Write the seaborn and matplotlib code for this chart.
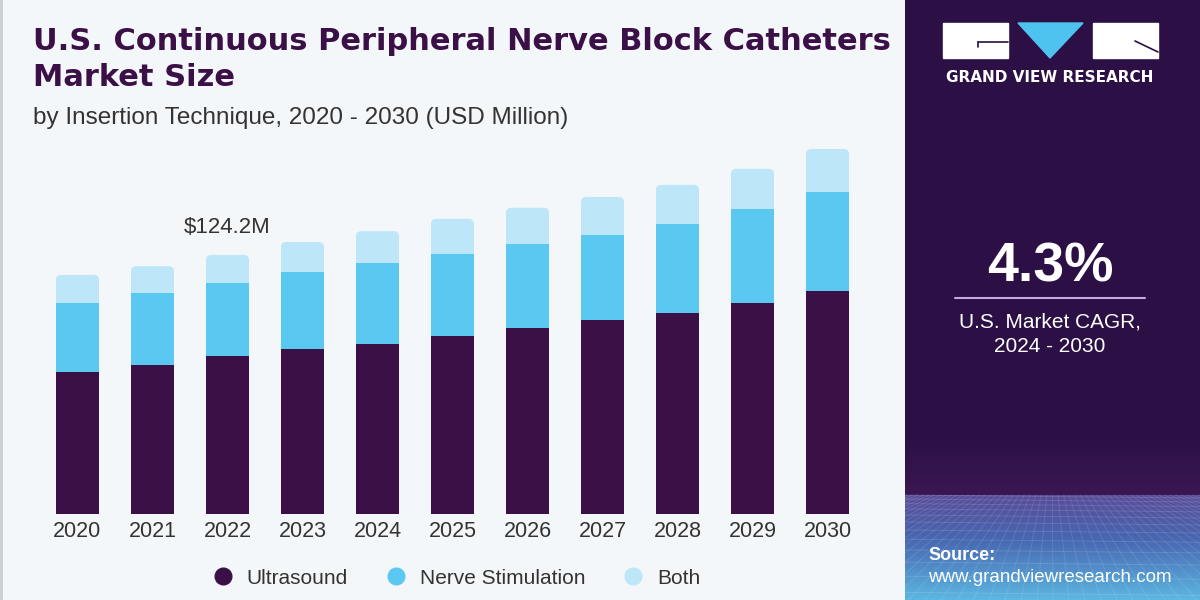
import numpy as np
import pandas as pd
import matplotlib
matplotlib.use("Agg")
import matplotlib.pyplot as plt
import matplotlib.patches as mpatches
import seaborn as sns

# ---- Data (USD Million) ----
years = ["2020", "2021", "2022", "2023", "2024", "2025", "2026", "2027", "2028", "2029", "2030"]
ultrasound = [68.1, 71.4, 75.8, 79.1, 81.5, 85.4, 89.2, 93.0, 96.4, 101.2, 106.9]
nerve_stim = [33.1, 34.5, 35.0, 36.9, 38.8, 39.3, 40.3, 40.8, 42.7, 45.1, 47.5]
both = [13.4, 12.9, 13.4, 14.4, 15.3, 16.8, 17.3, 18.2, 18.7, 19.2, 20.6]
segments = ["Ultrasound", "Nerve Stimulation", "Both"]
colors = ["#3B1046", "#5BC8F2", "#BDE6F8"]
callout_year = "2022"
callout_text = "$124.2M"
cagr = "4.3%"

df = pd.DataFrame({"year": years, "Ultrasound": ultrasound,
                   "Nerve Stimulation": nerve_stim, "Both": both})
df["cum_us"] = df["Ultrasound"]
df["cum_ns"] = df["cum_us"] + df["Nerve Stimulation"]
df["cum_all"] = df["cum_ns"] + df["Both"]

sns.set_style("white")
plt.rcParams["font.family"] = ["Liberation Sans", "DejaVu Sans"]

bg = "#F3F7FA"
panel = "#2B0F45"
dark = "#333333"

fig = plt.figure(figsize=(12, 6), dpi=100, facecolor=bg)

# ---- Stacked bars (totals first, lower stacks drawn over them) ----
ax = fig.add_axes([40 / 1200, 86 / 600, 825 / 1200, 374 / 600])
ax.set_facecolor(bg)
ax.set_ylim(0, 179.3)
ax.set_xlim(-0.5, len(years) - 0.5)
sns.barplot(data=df, x="year", y="cum_all", color=colors[2], width=0.573, ax=ax,
            saturation=1, edgecolor="none", linewidth=0)
# round the top corners of the full-height bars
for p in list(ax.patches):
    x0, y0, w, hgt = p.get_x(), p.get_y(), p.get_width(), p.get_height()
    p.remove()
    ax.add_patch(mpatches.FancyBboxPatch((x0, y0), w, hgt,
                 boxstyle="round,pad=0,rounding_size=0.07", mutation_aspect=36,
                 facecolor=colors[2], edgecolor="none"))
sns.barplot(data=df, x="year", y="cum_ns", color=colors[1], width=0.573, ax=ax,
            saturation=1, edgecolor="none", linewidth=0)
sns.barplot(data=df, x="year", y="cum_us", color=colors[0], width=0.573, ax=ax,
            saturation=1, edgecolor="none", linewidth=0)
ax.set_ylim(0, 179.3)
ax.set_xlim(-0.5, len(years) - 0.5)
ax.set_xlabel("")
ax.set_ylabel("")
ax.set_yticks([])
ax.tick_params(axis="x", length=0, labelsize=15.5, colors=dark, pad=5)
sns.despine(ax=ax, left=True, bottom=True)

i = years.index(callout_year)
ax.text(i, df["cum_all"][i] + 8, callout_text, ha="center", va="bottom",
        fontsize=16, color=dark)

# ---- Title ----
title_font = ["DejaVu Sans"]
fig.text(33 / 1200, 1 - 42 / 600, "U.S. Continuous Peripheral Nerve Block Catheters",
         fontsize=22, fontweight="bold", color="#3B1046", va="center", family=title_font)
fig.text(33 / 1200, 1 - 77 / 600, "Market Size",
         fontsize=22, fontweight="bold", color="#3B1046", va="center", family=title_font)
fig.text(33 / 1200, 1 - 118 / 600, "by Insertion Technique, 2020 - 2030 (USD Million)",
         fontsize=17.5, color=dark, va="center")

# ---- Legend ----
handles = [plt.Line2D([0], [0], marker="o", linestyle="", markersize=12,
                      markerfacecolor=c, markeredgecolor=c) for c in colors]
fig.legend(handles, segments, loc="center", bbox_to_anchor=(451 / 1200, 1 - 578 / 600),
           ncol=3, frameon=False, fontsize=15, handletextpad=0.15, columnspacing=1.3,
           labelcolor=dark)

# ---- Right panel ----
pax = fig.add_axes([905 / 1200, 0, 295 / 1200, 1])
pax.set_xlim(0, 295)
pax.set_ylim(600, 0)
pax.axis("off")
h = 600
grad = np.zeros((h, 2, 3))
stops = [(0, "#2B0F45"), (430, "#2B0F45"), (494, "#3A1752"), (495, "#574C98"),
         (540, "#4868B2"), (600, "#5CB8E2")]
for r in range(h):
    for (ya, ca), (yb, cb) in zip(stops[:-1], stops[1:]):
        if ya <= r <= yb:
            t = (r - ya) / max(yb - ya, 1)
            a = np.array(matplotlib.colors.to_rgb(ca))
            b = np.array(matplotlib.colors.to_rgb(cb))
            grad[r, :] = a + (b - a) * t
            break
pax.imshow(grad, extent=[0, 295, 600, 0], aspect="auto", zorder=0)
# perspective mesh below the horizon
yy = 495.0
step = 4.0
while yy < 600:
    pax.plot([0, 295], [yy, yy + 3], color="white", alpha=0.13, lw=0.7, zorder=1)
    yy += step
    step *= 1.15
for k in range(-300, 600, 16):
    pax.plot([147 + (k - 147) * 0.35, k], [495, 600], color="white", alpha=0.11,
             lw=0.7, zorder=1)

# logo
pax.add_patch(mpatches.Rectangle((38, 23), 65, 35, color="white", zorder=2))
pax.add_patch(mpatches.Polygon([(113, 23), (178, 23), (145, 58)], color="#4FC3F0", zorder=2))
pax.add_patch(mpatches.Rectangle((188, 23), 65, 35, color="white", zorder=2))
pax.plot([73, 103], [42, 42], color=panel, lw=1.2, zorder=3)
pax.plot([73, 73], [42, 47], color=panel, lw=1.2, zorder=3)
pax.plot([230, 253], [41, 52], color=panel, lw=1.2, zorder=3)
pax.text(145, 78, "GRAND VIEW RESEARCH", ha="center", va="center", fontsize=11,
         fontweight="bold", color="white", zorder=3, family=["DejaVu Sans"])

# CAGR
pax.text(145, 268, cagr, ha="center", va="center", fontsize=40,
         fontweight="bold", color="white", zorder=3)
pax.plot([50, 240], [298, 298], color="#C8A8E0", lw=1.5, zorder=3)
pax.text(145, 322, "U.S. Market CAGR,", ha="center", va="center", fontsize=15,
         color="white", zorder=3)
pax.text(145, 346, "2024 - 2030", ha="center", va="center", fontsize=15,
         color="white", zorder=3)

# source
pax.text(23, 555, "Source:", ha="left", va="center", fontsize=13,
         fontweight="bold", color="white", zorder=3)
pax.text(23, 578, "www.grandviewresearch.com", ha="left", va="center", fontsize=13.5,
         color="white", zorder=3)

# thin border on the left edge
fig.add_artist(plt.Line2D([0.001, 0.001], [0, 1], color="#C9CED4", lw=2))

fig.savefig("out.png", dpi=100, facecolor=bg)
